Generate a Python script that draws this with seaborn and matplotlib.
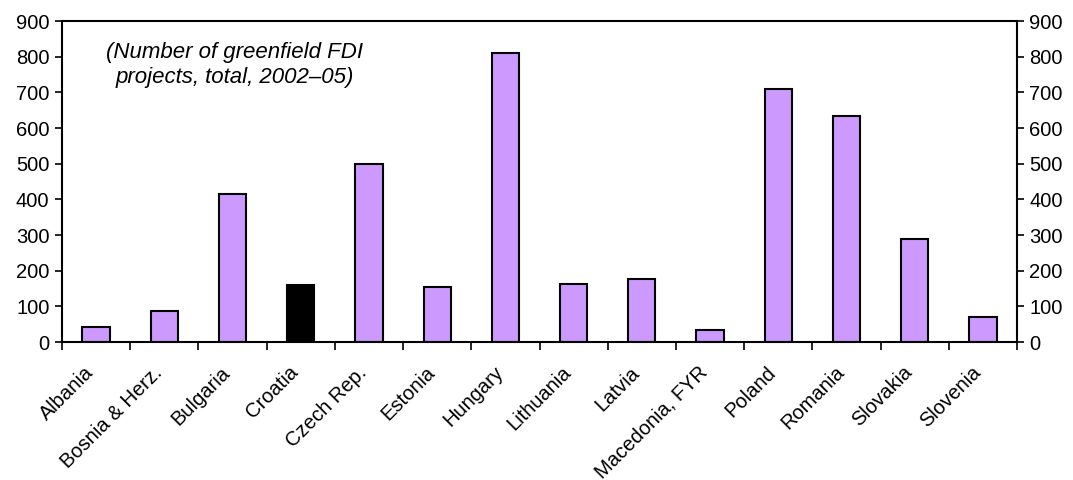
import matplotlib
matplotlib.use("Agg")
import matplotlib.pyplot as plt
import matplotlib.transforms as mtransforms
import seaborn as sns
import pandas as pd

countries = ["Albania", "Bosnia & Herz.", "Bulgaria", "Croatia", "Czech Rep.", "Estonia",
             "Hungary", "Lithuania", "Latvia", "Macedonia, FYR", "Poland", "Romania",
             "Slovakia", "Slovenia"]
projects = [42, 87, 415, 160, 500, 154, 810, 163, 178, 35, 710, 635, 288, 70]
highlight = "Croatia"
y_ticks = [0, 100, 200, 300, 400, 500, 600, 700, 800, 900]

sns.set_theme(style="white")
plt.rcParams['font.family'] = ['Liberation Sans', 'DejaVu Sans']
plt.rcParams['text.color'] = 'black'
plt.rcParams['xtick.color'] = 'black'
plt.rcParams['ytick.color'] = 'black'

df = pd.DataFrame({"country": countries, "projects": projects})
df["group"] = ["hl" if c == highlight else "other" for c in countries]

fig = plt.figure(figsize=(10.73, 4.8), dpi=100)
ax = fig.add_axes([62/1073, 1 - 342/480, (1017-62)/1073, (342-21)/480])

sns.barplot(data=df, x="country", y="projects", hue="group",
            palette={"hl": "#000000", "other": "#CC99FF"}, dodge=False, saturation=1,
            width=0.4, edgecolor="black", linewidth=1.5, legend=False, ax=ax)

ax.set_xlim(-0.5, len(countries) - 0.5)
ax.set_ylim(0, 900)
ax.set_yticks(y_ticks)
ax.set_yticklabels([str(v) for v in y_ticks], fontsize=14.5)
ax.tick_params(axis="y", which="both", left=True, right=True, labelleft=True,
               labelright=True, direction="out", length=5, width=1.2, colors="black", pad=4)
ax.set_xticks(range(len(countries)))
ax.set_xticklabels(countries, rotation=45, ha="right", rotation_mode="anchor", fontsize=14.5)
ax.set_xticks([i - 0.5 for i in range(len(countries) + 1)], minor=True)
ax.tick_params(axis="x", which="major", length=0, pad=15, colors="black")
ax.tick_params(axis="x", which="minor", length=6, width=1.2, color="black", direction="out", bottom=True)
offset = mtransforms.ScaledTranslation(-12/100, 0, fig.dpi_scale_trans)
for lbl in ax.get_xticklabels():
    lbl.set_transform(lbl.get_transform() + offset)
for s in ax.spines.values():
    s.set_visible(True)
    s.set_color("black")
    s.set_linewidth(1.5)
ax.set_xlabel("")
ax.set_ylabel("")
ax.grid(False)

ax.text((235-62)/(1017-62), 1 - (65-21)/(342-21),
        "(Number of greenfield FDI\nprojects, total, 2002\u201305)",
        transform=ax.transAxes, ha="center", va="center", fontsize=16,
        fontstyle="italic", linespacing=1.2, color="black")

fig.savefig("out.png", dpi=100)
